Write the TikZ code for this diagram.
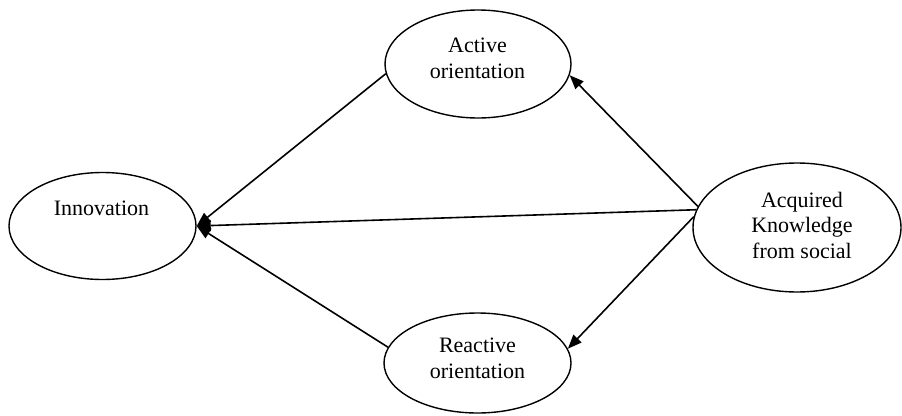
\documentclass[tikz,border=0pt]{standalone}
\usepackage{fontspec}
\setmainfont{Liberation Serif}
\usetikzlibrary{shapes.geometric,arrows.meta}
\begin{document}
\begin{tikzpicture}[x=1pt,y=-1pt,
  oval/.style={draw, ellipse, line width=1.4pt, inner sep=0pt},
  lbl/.style={font=\fontsize{22}{25.5}\selectfont, align=center, inner sep=0pt, anchor=base},
  conn/.style={line width=1.6pt, -{Triangle[length=14pt,width=11pt]}}]
\useasboundingbox (0,0) rectangle (902,415);
\node[oval, minimum width=187pt, minimum height=107pt] (inn) at (102.5,226) {};
\node[oval, minimum width=186pt, minimum height=108pt] (act) at (478,64) {};
\node[oval, minimum width=187pt, minimum height=100pt] (rea) at (477.5,363) {};
\node[oval, minimum width=208pt, minimum height=129pt] (acq) at (797,227.5) {};
\node[lbl] (innt) at (101.5,215) {Innovation};
\node[lbl] (actt) at (477.5,78.3) {Active\\orientation};
\node[lbl] (reat) at (477.5,378) {Reactive\\orientation};
\node[lbl] (acqt) at (802,258.3) {Acquired\\Knowledge\\from social};
\draw[conn] (act.186.8) -- (inn.east);
\draw[conn] (rea.170.8) -- (inn.east);
\draw[conn] (acq.170.5) -- (inn.east);
\draw[conn] (acq.168.4) -- (act.-7);
\draw[conn] (acq.174.7) -- (rea.9.6);
\end{tikzpicture}
\end{document}
